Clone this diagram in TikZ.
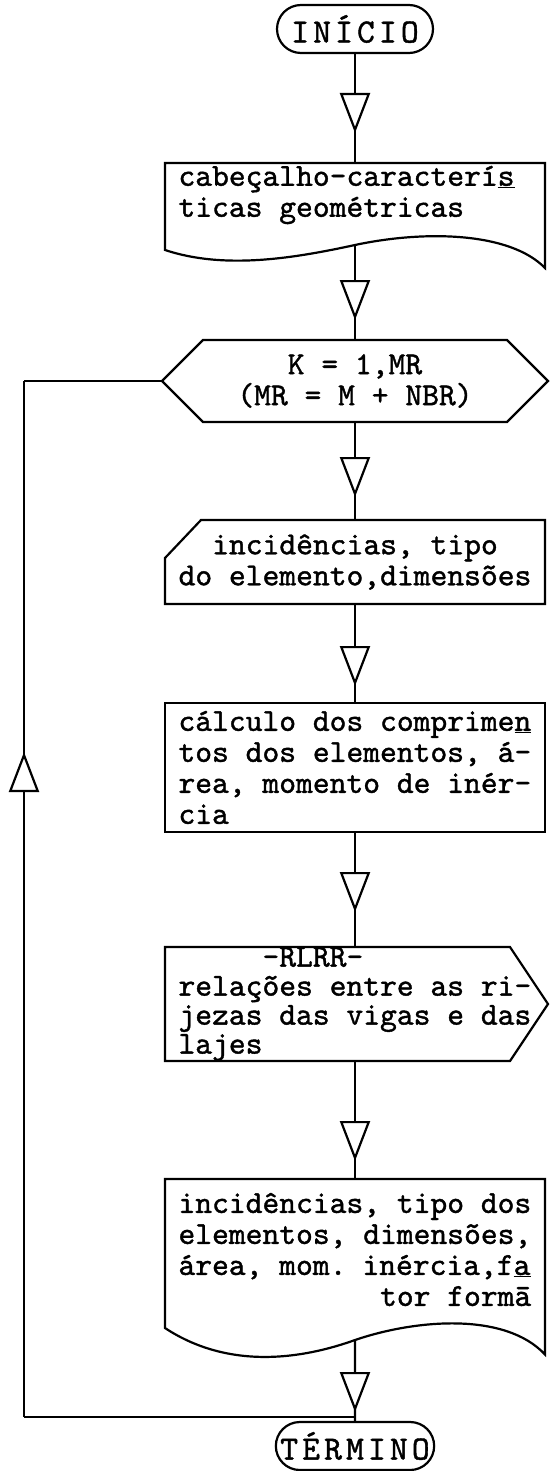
\documentclass[tikz,border=0pt]{standalone}
\usepackage{fontspec}
\setmonofont{lmmono10-regular.otf}[FakeBold=1.2]
\newfontfamily\termfont{lmmono10-regular.otf}[FakeBold=1.2, LetterSpace=12]
\usetikzlibrary{shapes.misc, arrows.meta, positioning, calc, decorations.markings}

\begin{document}
\begin{tikzpicture}[
		x=1pt, y=1pt,
		every node/.style={font=\ttfamily\fontsize{32}{31}\selectfont, inner sep=0pt, outer sep=0pt, execute at begin node={\spaceskip=0.525em\relax}},
		terminal/.style={rounded rectangle, draw, line width=2.2pt, minimum width=156pt, minimum height=48pt, font=\termfont\fontsize{34}{36}\selectfont},
		textbox/.style={rectangle, minimum width=380pt, text width=353pt, align=left},
		process/.style={textbox, draw, line width=2.2pt},
		shapeline/.style={draw, line width=2.2pt, line join=miter},
		line/.style={draw, line width=2.2pt},
		flow/.style={line, postaction={decorate}, decoration={markings, mark=at position #1 with {\arrow{Triangle[length=40pt, width=30pt, fill=white]}}}},
		flow/.default=78pt
	]
	\useasboundingbox (0,0) rectangle (553,-1471);

	% Start
	\node [terminal] (init) at (355,-29) {INÍCIO};

	% Header output
	\node [textbox, minimum height=64pt, below=110pt of init] (doc1) {cabeçalho-caracterí\underline{s}\\ticas geométricas};

	% Loop over the members
	\node [textbox, align=center, minimum width=386pt, minimum height=82pt, below=113pt of doc1] (hex) {K = 1,MR\\(MR = M + NBR)};

	% Read member data
	\node [textbox, align=center, minimum height=84pt, below=98pt of hex] (input) {incidências, tipo\\do elemento,dimensões};

	% Member properties
	\node [process, minimum height=129pt, below=99pt of input] (calc) {cálculo dos comprime\underline{n}\\tos dos elementos, á-\\rea, momento de inér-\\cia};

	% Stiffness ratios
	\node [textbox, minimum height=114pt, below=115pt of calc, font=\ttfamily\fontsize{32}{29}\selectfont] (rlrr) {\phantom{xxxxx}-RLRR-\\relações entre as ri-\\jezas das vigas e das\\lajes};

	% Member output
	\node [textbox, minimum height=141pt, below=118pt of rlrr] (doc2) {incidências, tipo dos\\elementos, dimensões,\\área, mom. inércia,f\underline{a}\\\phantom{xxxxxxxxxxxx}tor formā};

	% End
	\node [terminal, below=102pt of doc2] (term) {TÉRMINO};

	% Outlines
	\draw [shapeline, shift={(doc1.center)}] (-190,32) -- (190,32) -- (190,-73) .. controls (155,-37) and (70,-35) .. (0,-50) coordinate (d1wave) .. controls (-60,-63) and (-130,-75) .. (-190,-55) -- cycle;
	\draw [shapeline, shift={(hex.center)}] (-193,0) -- (-152,41) -- (152,41) -- (193,0) -- (152,-41) -- (-152,-41) -- cycle;
	\draw [shapeline, shift={(input.center)}] (-190,-42) -- (-190,4) -- (-154,42) -- (190,42) -- (190,-42) -- cycle;
	\draw [shapeline, shift={(rlrr.center)}] (-190,57) -- (155,57) -- (193,0) -- (155,-57) -- (-190,-57) -- cycle;
	\draw [shapeline, shift={(doc2.center)}] (-190,70.5) -- (190,70.5) -- (190,-105) .. controls (150,-62) and (60,-70) .. (0,-90.5) coordinate (d2wave) .. controls (-60,-112) and (-130,-118) .. (-190,-78.5) -- cycle;

	% Edges
	\path [flow=80pt] (init) -- (doc1);
	\path [flow=75pt] (d1wave) -- (hex);
	\path [flow=75pt] (hex) -- (input);
	\path [flow=82pt] (input) -- (calc);
	\path [flow=80pt] (calc) -- (rlrr);
	\path [flow=100pt] (rlrr) -- (doc2);
	\path [flow=72pt] (d2wave) -- (term);

	% Loop back
	\coordinate [above=5pt of term.north] (jn);
	\coordinate (lt) at ($(hex.west)+(-138,0)$);
	\coordinate (lb) at (lt |- jn);
	\path [line] (jn) -- (lb);
	\path [flow=665pt] (lb) -- (lt);
	\path [line] (lt) -- (hex.west);

\end{tikzpicture}
\end{document}
